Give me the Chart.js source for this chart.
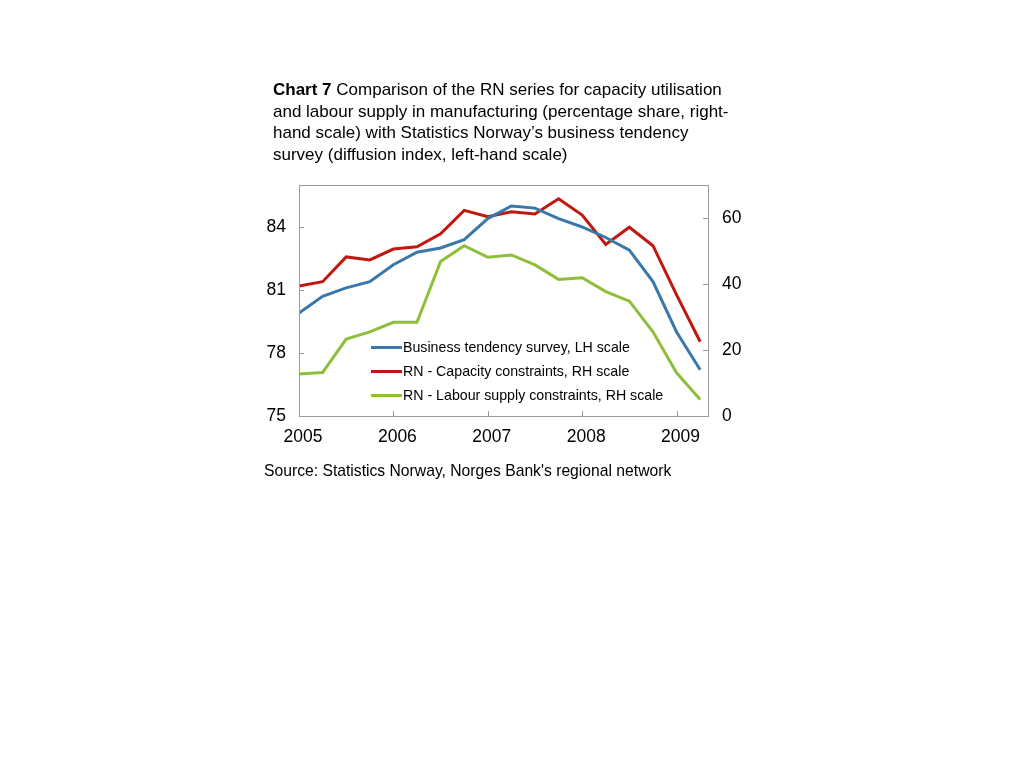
<!DOCTYPE html>
<html>
<head>
<meta charset="utf-8">
<script src="https://cdn.jsdelivr.net/npm/chart.js@4.4.1/dist/chart.umd.min.js"></script>
<style>
  html, body { margin: 0; padding: 0; background: #fff; }
  body { width: 1024px; height: 768px; position: relative; overflow: hidden; font-family: "Liberation Sans", Arial, sans-serif; color: #000; }
  #title { position: absolute; left: 273px; top: 79px; font-size: 17px; line-height: 21.5px; white-space: nowrap; }
  #source { position: absolute; left: 264px; top: 462px; font-size: 15.7px; white-space: nowrap; }
  #legend { position: absolute; left: 371px; top: 335px; font-size: 14.2px; line-height: 24px; }
  #legend .row { display: flex; align-items: center; white-space: nowrap; }
  #legend .sw { width: 31px; height: 3px; margin-right: 1px; }
  canvas { position: absolute; left: 0; top: 0; }
</style>
</head>
<body>
<canvas id="c" width="1024" height="768"></canvas>
<div id="title"><b>Chart 7</b> Comparison of the RN series for capacity utilisation<br>and labour supply in manufacturing (percentage share, right-<br>hand scale) with Statistics Norway’s business tendency<br>survey (diffusion index, left-hand scale)</div>
<div id="legend"></div>
<div id="source">Source: Statistics Norway, Norges Bank's regional network</div>
<script>
// Quarterly observations, 2005 Q1 – 2009 Q2
const quarters = ["2005Q1","2005Q2","2005Q3","2005Q4","2006Q1","2006Q2","2006Q3","2006Q4",
                  "2007Q1","2007Q2","2007Q3","2007Q4","2008Q1","2008Q2","2008Q3","2008Q4",
                  "2009Q1","2009Q2"];
// Business tendency survey (diffusion index, LH scale)
const businessTendency = [79.9, 80.7, 81.1, 81.4, 82.2, 82.8, 83.0, 83.4,
                          84.4, 85.0, 84.9, 84.4, 84.0, 83.5, 82.9, 81.4,
                          79.0, 77.2];
// RN capacity constraints (percentage share, RH scale)
const capacityConstraints = [39.4, 40.7, 48.2, 47.3, 50.6, 51.3, 55.2, 62.3,
                             60.4, 61.9, 61.2, 65.8, 60.9, 52.0, 57.2, 51.6,
                             36.7, 22.5];
// RN labour supply constraints (percentage share, RH scale)
const labourConstraints = [12.7, 13.2, 23.3, 25.5, 28.4, 28.4, 46.8, 51.6,
                           48.1, 48.8, 45.8, 41.4, 41.9, 37.7, 34.8, 25.5,
                           13.1, 5.0];
const yearTicks = [2005, 2006, 2007, 2008, 2009];
const leftTicks = [75, 78, 81, 84];
const rightTicks = [0, 20, 40, 60];
const seriesNames = ["Business tendency survey, LH scale",
                     "RN - Capacity constraints, RH scale",
                     "RN - Labour supply constraints, RH scale"];
const colors = ["#3b78aa", "#c0170f", "#8dbf3a"];

const qx = quarters.map(q => parseInt(q.slice(0,4)) + (parseInt(q.slice(5)) - 1) / 4);
const pts = arr => arr.map((v, i) => ({x: qx[i], y: v}));

const frame = {
  id: 'frame',
  afterDraw(chart) {
    const {ctx, chartArea: a, scales} = chart;
    ctx.save();
    ctx.strokeStyle = '#9a9a9a';
    ctx.lineWidth = 1;
    ctx.strokeRect(Math.round(a.left) + 0.5, Math.round(a.top) + 0.5,
                   Math.round(a.right - a.left), Math.round(a.bottom - a.top));
    ctx.beginPath();
    yearTicks.forEach(t => {
      const px = Math.round(scales.x.getPixelForValue(t)) + 0.5;
      if (px > a.left + 2) { ctx.moveTo(px, a.bottom); ctx.lineTo(px, a.bottom - 5); }
    });
    leftTicks.forEach(t => {
      const py = Math.round(scales.y.getPixelForValue(t)) + 0.5;
      if (py < a.bottom - 2) { ctx.moveTo(a.left, py); ctx.lineTo(a.left + 5, py); }
    });
    rightTicks.forEach(t => {
      const py = Math.round(scales.y2.getPixelForValue(t)) + 0.5;
      if (py < a.bottom - 2) { ctx.moveTo(a.right, py); ctx.lineTo(a.right - 5, py); }
    });
    ctx.stroke();
    ctx.restore();
  }
};

const tickFont = {family: '"Liberation Sans", Arial, sans-serif', size: 17.5};

new Chart(document.getElementById('c'), {
  type: 'line',
  data: {
    datasets: [
      {label: seriesNames[0], data: pts(businessTendency), yAxisID: 'y', borderColor: colors[0]},
      {label: seriesNames[1], data: pts(capacityConstraints), yAxisID: 'y2', borderColor: colors[1]},
      {label: seriesNames[2], data: pts(labourConstraints), yAxisID: 'y2', borderColor: colors[2]}
    ]
  },
  options: {
    responsive: false,
    animation: false,
    devicePixelRatio: 1,
    layout: {padding: {left: 239, right: 236, top: 185, bottom: 302}},
    elements: {
      line: {borderWidth: 3, tension: 0, fill: false, borderCapStyle: 'butt', borderJoinStyle: 'miter'},
      point: {radius: 0, hoverRadius: 0}
    },
    plugins: {legend: {display: false}, tooltip: {enabled: false}},
    scales: {
      x: {
        type: 'linear', min: 2005, max: 2009.333,
        afterFit: s => { s.height = 50; },
        afterBuildTicks: s => { s.ticks = yearTicks.map(v => ({value: v})); },
        grid: {display: false, drawTicks: false},
        border: {display: false},
        ticks: {font: tickFont, color: '#000', padding: 11, labelOffset: 4, maxRotation: 0, callback: v => String(v)}
      },
      y: {
        position: 'left', min: 75, max: 86,
        afterFit: s => { s.width = 60; },
        afterBuildTicks: s => { s.ticks = leftTicks.map(v => ({value: v})); },
        grid: {display: false, drawTicks: false},
        border: {display: false},
        ticks: {font: tickFont, color: '#000', padding: 13}
      },
      y2: {
        position: 'right', min: 0, max: 70,
        afterFit: s => { s.width = 80; },
        afterBuildTicks: s => { s.ticks = rightTicks.map(v => ({value: v})); },
        grid: {display: false, drawTicks: false},
        border: {display: false},
        ticks: {font: tickFont, color: '#000', padding: 14}
      }
    }
  },
  plugins: [frame]
});

const lg = document.getElementById('legend');
seriesNames.forEach((n, i) => {
  const row = document.createElement('div');
  row.className = 'row';
  const sw = document.createElement('span');
  sw.className = 'sw';
  sw.style.background = colors[i];
  const tx = document.createElement('span');
  tx.textContent = n;
  row.appendChild(sw); row.appendChild(tx);
  lg.appendChild(row);
});
</script>
</body>
</html>
